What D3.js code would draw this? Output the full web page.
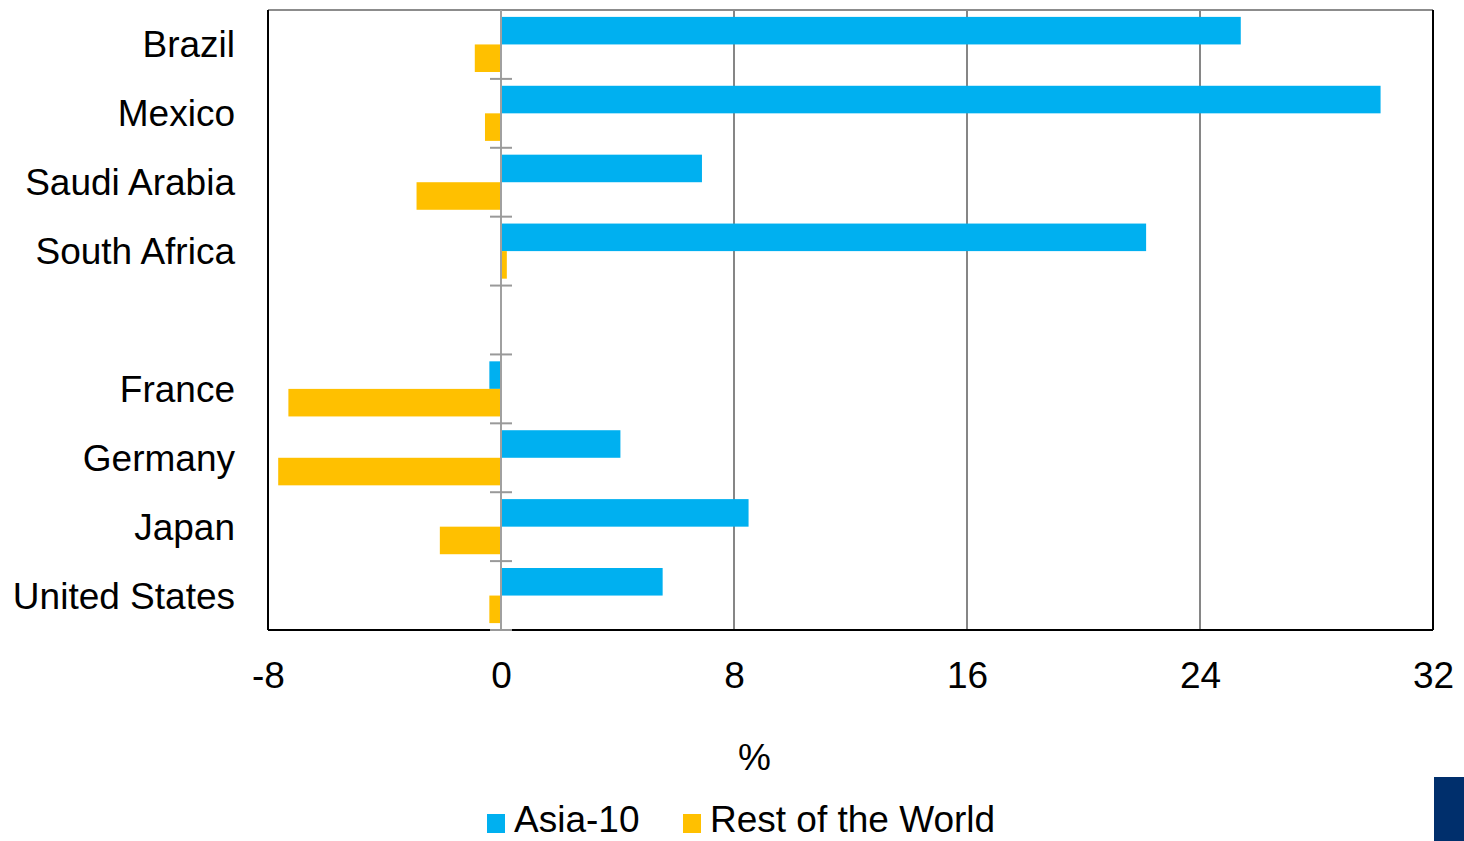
<!DOCTYPE html>
<html>
<head>
<meta charset="utf-8">
<script src="https://cdn.jsdelivr.net/npm/d3@7"></script>
<style>
  html, body { margin: 0; padding: 0; background: #fff; }
  svg { display: block; font-family: "Liberation Sans", Arial, sans-serif; }
</style>
</head>
<body>
<svg id="chart" width="1464" height="841"></svg>
<script>
// Countries top to bottom; the empty entry leaves a gap between the two groups
const categories = ["Brazil", "Mexico", "Saudi Arabia", "South Africa", "", "France", "Germany", "Japan", "United States"];
const seriesNames = ["Asia-10", "Rest of the World"];
const asia10 = [25.4, 30.2, 6.9, 22.15, null, -0.4, 4.1, 8.5, 5.55];
const restOfWorld = [-0.9, -0.55, -2.9, 0.2, null, -7.3, -7.65, -2.1, -0.4];
const xTicks = [-8, 0, 8, 16, 24, 32];
const colors = ["#00b0f0", "#ffc000"];

const svg = d3.select("#chart");
const margin = { left: 268, right: 1433, top: 10, bottom: 630 };
const fontSize = 37;

const x = d3.scaleLinear().domain([-8, 32]).range([margin.left, margin.right]);
const y = d3.scaleBand().domain(d3.range(categories.length)).range([margin.top, margin.bottom])
  .paddingInner(0.2).paddingOuter(0.1);
const ySub = d3.scaleBand().domain(d3.range(seriesNames.length)).range([0, y.bandwidth()]);

const step = (margin.bottom - margin.top) / categories.length;

// vertical gridlines
svg.append("g").selectAll("line")
  .data(xTicks.filter(t => t !== 0 && t !== -8 && t !== 32))
  .join("line")
  .attr("x1", d => x(d)).attr("x2", d => x(d))
  .attr("y1", margin.top).attr("y2", margin.bottom)
  .attr("stroke", "#868686").attr("stroke-width", 2);

// bars
const table = categories.map((c, i) => ({ i, values: [asia10[i], restOfWorld[i]] }));
const groups = svg.append("g").selectAll("g")
  .data(table.filter(d => d.values[0] !== null))
  .join("g")
  .attr("transform", d => `translate(0,${y(d.i)})`);
groups.selectAll("rect")
  .data(d => d.values.map((v, s) => ({ v, s })))
  .join("rect")
  .attr("x", d => x(Math.min(0, d.v)))
  .attr("width", d => Math.abs(x(d.v) - x(0)))
  .attr("y", d => ySub(d.s))
  .attr("height", ySub.bandwidth())
  .attr("fill", d => colors[d.s]);

// plot frame
svg.append("line").attr("x1", margin.left).attr("x2", margin.right)
  .attr("y1", margin.top).attr("y2", margin.top).attr("stroke", "#8c8c8c").attr("stroke-width", 2);
svg.append("line").attr("x1", margin.right).attr("x2", margin.right)
  .attr("y1", margin.top).attr("y2", margin.bottom).attr("stroke", "#000").attr("stroke-width", 2);
svg.append("line").attr("x1", margin.left).attr("x2", margin.left)
  .attr("y1", margin.top).attr("y2", margin.bottom).attr("stroke", "#000").attr("stroke-width", 2);
svg.append("line").attr("x1", margin.left).attr("x2", margin.right)
  .attr("y1", margin.bottom).attr("y2", margin.bottom).attr("stroke", "#000").attr("stroke-width", 2);

// category axis along zero, with cross ticks between categories
svg.append("line").attr("x1", x(0)).attr("x2", x(0))
  .attr("y1", margin.top).attr("y2", margin.bottom)
  .attr("stroke", "#a0a0a0").attr("stroke-width", 2);
svg.append("g").selectAll("line")
  .data(d3.range(1, categories.length + 1))
  .join("line")
  .attr("x1", x(0) - 11).attr("x2", x(0) + 11)
  .attr("y1", d => margin.top + d * step).attr("y2", d => margin.top + d * step)
  .attr("stroke", "#999").attr("stroke-width", 2);

// category labels
svg.append("g").selectAll("text")
  .data(categories.map((c, i) => ({ c, i })).filter(d => d.c))
  .join("text")
  .attr("x", 235)
  .attr("y", d => margin.top + (d.i + 0.5) * step)
  .attr("dy", "0.35em")
  .attr("text-anchor", "end")
  .attr("font-size", fontSize)
  .attr("fill", "#000")
  .text(d => d.c);

// value axis labels (plain hyphen for negatives)
const xAxis = svg.append("g")
  .attr("transform", `translate(0,${margin.bottom})`)
  .call(d3.axisBottom(x).tickValues(xTicks).tickSize(0).tickPadding(0).tickFormat(d => String(d)));
xAxis.select(".domain").remove();
xAxis.selectAll("text")
  .attr("y", 58).attr("dy", 0)
  .attr("font-size", fontSize)
  .attr("font-family", "'Liberation Sans', Arial, sans-serif")
  .attr("fill", "#000");

svg.append("text")
  .attr("x", x(8.7)).attr("y", 770)
  .attr("text-anchor", "middle")
  .attr("font-size", fontSize)
  .text("%");

// legend
const legend = svg.append("g");
const legendItems = [{ name: seriesNames[0], sx: 487 }, { name: seriesNames[1], sx: 683 }];
legendItems.forEach((d, i) => {
  legend.append("rect").attr("x", d.sx).attr("y", 814).attr("width", 18).attr("height", 19).attr("fill", colors[i]);
  legend.append("text").attr("x", d.sx + 27).attr("y", 832).attr("font-size", fontSize).text(d.name);
});

// corner block
svg.append("rect").attr("x", 1434).attr("y", 777).attr("width", 30).attr("height", 64).attr("fill", "#002f6c");
</script>
</body>
</html>
